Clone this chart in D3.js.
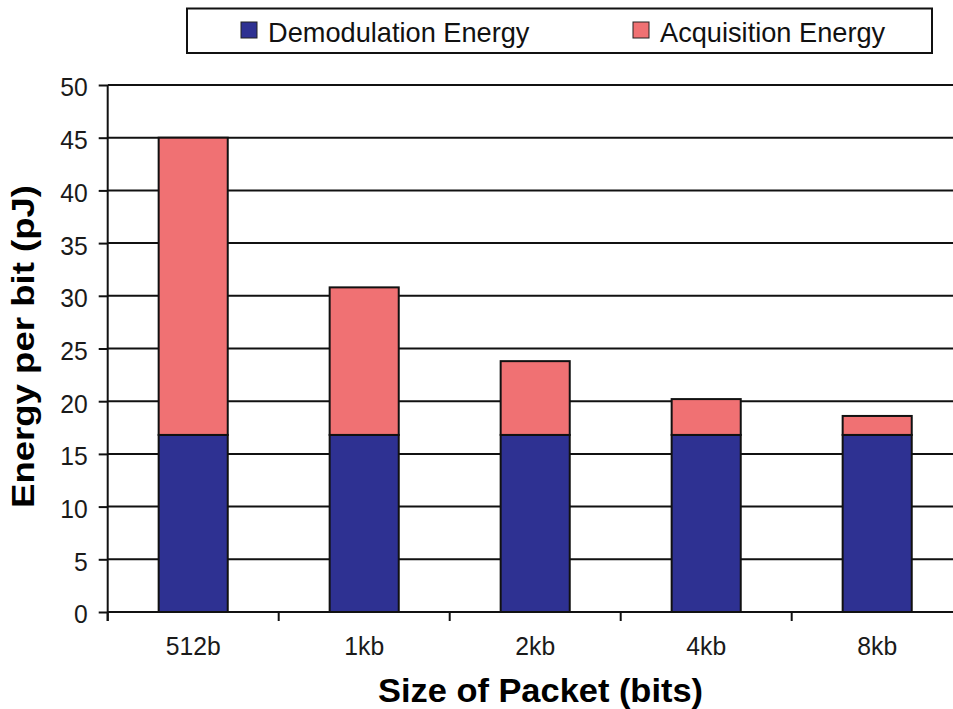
<!DOCTYPE html>
<html>
<head>
<meta charset="utf-8">
<script src="https://cdn.jsdelivr.net/npm/d3@7/dist/d3.min.js"></script>
<style>
  html, body { margin: 0; padding: 0; background: #fff; }
  svg { display: block; font-family: "Liberation Sans", Arial, sans-serif; }
</style>
</head>
<body>
<svg id="chart" width="953" height="709"></svg>
<script>
// Packet sizes and the two stacked energy components (pJ per bit)
const packetSizes = ["512b", "1kb", "2kb", "4kb", "8kb"];
const demodulationEnergy = [16.8, 16.8, 16.8, 16.8, 16.8];
const acquisitionEnergy = [28.2, 14.0, 7.0, 3.4, 1.8];
const seriesNames = ["Demodulation Energy", "Acquisition Energy"];
const seriesColors = ["#2e3192", "#f07173"];
const yTicks = [0, 5, 10, 15, 20, 25, 30, 35, 40, 45, 50];

const svg = d3.select("#chart");
const plot = { left: 107.7, right: 962.7, top: 85, bottom: 612 };

const x = d3.scaleBand()
  .domain(packetSizes)
  .range([plot.left, plot.right])
  .paddingInner(0.596)
  .paddingOuter(0.298);

const y = d3.scaleLinear().domain([0, 50]).range([plot.bottom, plot.top]);

// stacked layout
const rows = packetSizes.map((p, i) => ({
  size: p,
  demod: demodulationEnergy[i],
  acq: acquisitionEnergy[i]
}));
const stack = d3.stack().keys(["demod", "acq"]);
const layers = stack(rows);

// horizontal gridlines
svg.append("g")
  .selectAll("line")
  .data(yTicks.filter(t => t > 0))
  .join("line")
  .attr("x1", plot.left).attr("x2", 953)
  .attr("y1", d => y(d)).attr("y2", d => y(d))
  .attr("stroke", "#111").attr("stroke-width", 2);

// bars
svg.append("g")
  .selectAll("g")
  .data(layers)
  .join("g")
  .attr("fill", (d, i) => seriesColors[i])
  .selectAll("rect")
  .data(d => d)
  .join("rect")
  .attr("x", d => x(d.data.size))
  .attr("width", x.bandwidth())
  .attr("y", d => y(d[1]))
  .attr("height", d => y(d[0]) - y(d[1]))
  .attr("stroke", "#111")
  .attr("stroke-width", 2);

// y axis
const yAxis = svg.append("g")
  .attr("transform", `translate(${plot.left},0)`)
  .call(d3.axisLeft(y).tickValues(yTicks).tickSize(9).tickPadding(11));
yAxis.select(".domain").remove();
yAxis.selectAll(".tick line").attr("stroke", "#111").attr("stroke-width", 2);
yAxis.selectAll(".tick text")
  .attr("font-size", 26)
  .attr("font-family", "Liberation Sans, Arial, sans-serif")
  .attr("fill", "#1a1a1a")
  .attr("dy", "0.42em");
svg.append("line")
  .attr("x1", plot.left).attr("x2", plot.left)
  .attr("y1", plot.top).attr("y2", plot.bottom + 9)
  .attr("stroke", "#111").attr("stroke-width", 2);

// x axis: baseline, category boundary ticks and labels
svg.append("line")
  .attr("x1", plot.left).attr("x2", 953)
  .attr("y1", plot.bottom).attr("y2", plot.bottom)
  .attr("stroke", "#111").attr("stroke-width", 2);
const boundaries = packetSizes.map(p => x(p) + x.bandwidth() / 2 - x.step() / 2)
  .concat([x(packetSizes[packetSizes.length - 1]) + x.bandwidth() / 2 + x.step() / 2]);
svg.append("g")
  .selectAll("line")
  .data(boundaries)
  .join("line")
  .attr("x1", d => d).attr("x2", d => d)
  .attr("y1", plot.bottom).attr("y2", plot.bottom + 9)
  .attr("stroke", "#111").attr("stroke-width", 2);
const xAxis = svg.append("g")
  .attr("transform", `translate(0,${plot.bottom})`)
  .call(d3.axisBottom(x).tickSize(0).tickPadding(0));
xAxis.select(".domain").remove();
xAxis.selectAll(".tick text")
  .attr("font-size", 26)
  .attr("font-family", "Liberation Sans, Arial, sans-serif")
  .attr("fill", "#1a1a1a")
  .attr("y", 43)
  .attr("dy", 0);

// slightly condensed tick labels
svg.selectAll(".tick text").each(function () {
  const w = this.getComputedTextLength();
  d3.select(this).attr("textLength", w * 0.95).attr("lengthAdjust", "spacingAndGlyphs");
});

// axis titles
svg.append("text")
  .attr("x", 540.5).attr("y", 702)
  .attr("text-anchor", "middle")
  .attr("font-size", 34).attr("font-weight", "bold")
  .attr("textLength", 325).attr("lengthAdjust", "spacingAndGlyphs")
  .text("Size of Packet (bits)");
svg.append("text")
  .attr("transform", "translate(34,346.5) rotate(-90)")
  .attr("text-anchor", "middle")
  .attr("font-size", 31).attr("font-weight", "bold")
  .attr("textLength", 323).attr("lengthAdjust", "spacingAndGlyphs")
  .text("Energy per bit (pJ)");

// legend
const legend = svg.append("g");
legend.append("rect")
  .attr("x", 187).attr("y", 8.5).attr("width", 745).attr("height", 44.5)
  .attr("fill", "#fff").attr("stroke", "#111").attr("stroke-width", 2);
const legendX = [241, 633];
const items = legend.selectAll("g.item")
  .data(seriesNames)
  .join("g")
  .attr("class", "item")
  .attr("transform", (d, i) => `translate(${legendX[i]},0)`);
items.append("rect")
  .attr("x", 0).attr("y", 22).attr("width", 16).attr("height", 16)
  .attr("fill", (d, i) => seriesColors[i])
  .attr("stroke", "#222").attr("stroke-width", 1);
items.append("text")
  .attr("x", 27).attr("y", 41.5)
  .attr("font-size", 27.2)
  .attr("fill", "#111")
  .text(d => d);
</script>
</body>
</html>
